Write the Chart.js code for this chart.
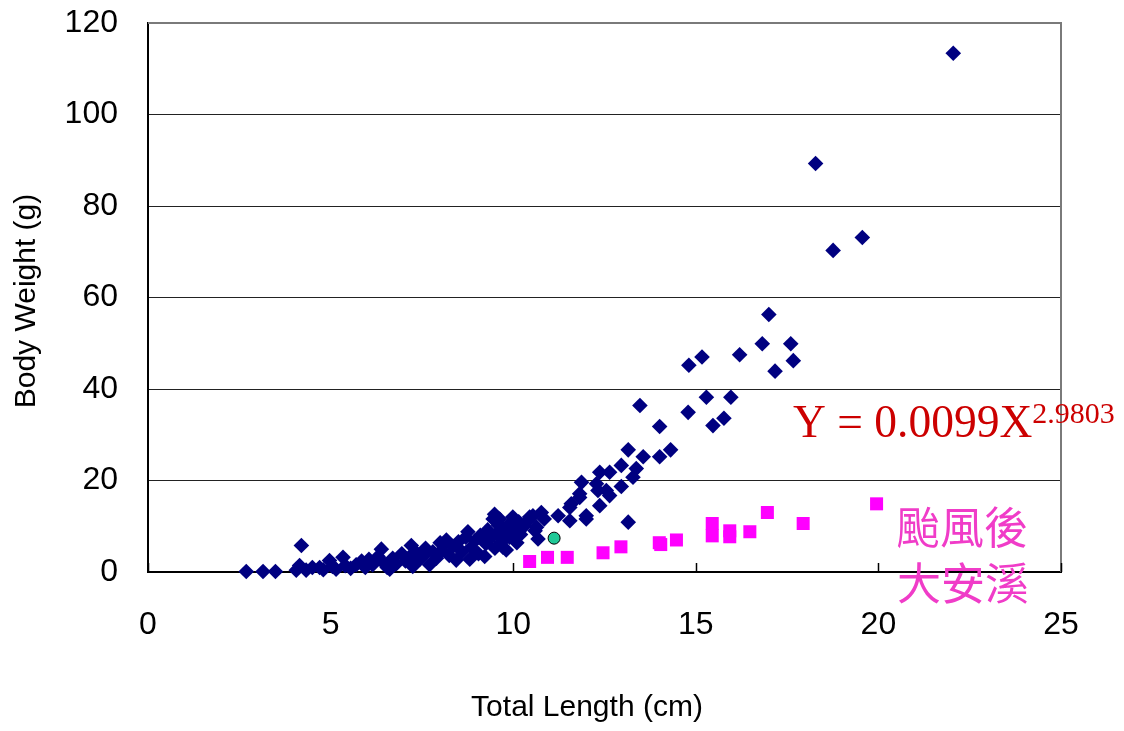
<!DOCTYPE html>
<html>
<head>
<meta charset="utf-8">
<script src="https://cdn.jsdelivr.net/npm/chart.js@4/dist/chart.umd.min.js"></script>
<style>
  html, body { margin: 0; padding: 0; background: #fff; }
</style>
</head>
<body>
<canvas id="lwChart" width="1124" height="731"></canvas>
<script>
// total length (cm) / body weight (g)
const beforeX = [2.69, 3.15, 3.49, 4.06, 4.15, 4.2, 4.33, 4.5, 4.7, 4.8, 4.97, 5.05, 5.15, 5.34, 5.4, 5.55, 5.7, 5.85, 5.95, 6.05,
  6.15, 6.3, 6.39, 6.45, 6.55, 6.62, 6.7, 6.8, 6.95, 7.05, 7.15, 7.21, 7.25, 7.35, 7.45, 7.55, 7.6, 7.71, 7.8, 7.9,
  8.0, 8.05, 8.17, 8.25, 8.35, 8.44, 8.5, 8.6, 8.7, 8.76, 8.81, 8.85, 8.95, 9.05, 9.1, 9.22, 9.25, 9.3, 9.35, 9.45,
  9.49, 9.5, 9.55, 9.6, 9.63, 9.68, 9.72, 9.75, 9.81, 9.85, 9.9, 9.9, 9.95, 9.99, 10.05, 10.1, 10.15, 10.2, 10.3, 10.41,
  10.45, 10.54, 10.6, 10.64, 10.68, 10.77, 10.85, 11.23, 11.55, 11.55, 11.59, 11.82, 11.82, 11.87, 12.0, 12.0, 12.28, 12.32, 12.37, 12.37,
  12.55, 12.64, 12.64, 12.96, 12.96, 13.15, 13.15, 13.28, 13.37, 13.47, 13.56, 14.01, 14.01, 14.31, 14.79, 14.81, 15.17, 15.29, 15.47, 15.77,
  15.96, 16.2, 16.82, 17.0, 17.17, 17.6, 17.67, 18.28, 18.76, 19.56, 22.05];
const beforeY = [0.1, 0.1, 0.1, 0.4, 1.4, 5.8, 0.4, 1.0, 1.0, 0.5, 2.5, 1.2, 0.6, 3.2, 1.4, 0.8, 1.6, 2.4, 1.0, 2.8,
  1.6, 3.4, 5.0, 2.0, 1.0, 0.6, 3.0, 1.8, 4.0, 2.4, 3.2, 5.8, 1.2, 4.2, 2.8, 3.6, 5.2, 1.6, 4.4, 3.0,
  6.4, 4.8, 7.0, 3.6, 5.6, 2.6, 6.6, 4.4, 7.6, 8.8, 2.8, 5.4, 6.8, 4.0, 8.0, 3.4, 6.2, 9.2, 7.2, 11.6,
  12.6, 5.2, 8.4, 10.2, 11.6, 6.6, 5.4, 9.4, 4.8, 7.8, 10.5, 7.6, 8.8, 12.0, 9.6, 6.4, 11.0, 8.2, 10.0, 11.2,
  12.0, 12.3, 9.0, 9.8, 7.2, 13.0, 11.6, 12.3, 11.2, 14.1, 14.9, 16.3, 17.1, 19.6, 11.6, 12.3, 19.3, 17.8, 14.5, 21.8,
  17.8, 21.8, 16.7, 23.3, 18.7, 26.7, 10.9, 20.7, 22.6, 36.4, 25.2, 25.2, 31.8, 26.7, 34.9, 45.2, 47.0, 38.2, 32.0, 33.6,
  38.2, 47.5, 49.9, 56.3, 43.9, 49.9, 46.2, 89.3, 70.3, 73.1, 113.4];

// after the typhoon, Da-an river
const afterX = [10.45, 10.94, 11.48, 12.46, 12.95, 14.0, 14.04, 14.47, 15.45, 15.45, 15.93, 15.93, 16.48, 16.96, 17.94, 19.95];
const afterY = [2.3, 3.2, 3.2, 4.2, 5.5, 6.4, 6.0, 7.0, 10.6, 7.9, 9.0, 7.7, 8.8, 13.0, 10.6, 14.9];

const markX = [11.12];
const markY = [7.4];

const xTicks = [0, 5, 10, 15, 20, 25];
const yTicks = [0, 20, 40, 60, 80, 100, 120];

const formulaMain = 'Y = 0.0099X';
const formulaExp = '2.9803';
const noteLines = ['颱風後', '大安溪'];
const xTitle = 'Total Length (cm)';
const yTitle = 'Body Weight (g)';

const toPoints = (xs, ys) => xs.map((x, i) => ({ x: x, y: ys[i] }));

const sansFont = "'Liberation Sans', Arial, sans-serif";

const framePlugin = {
    id: 'frame',
    beforeDatasetsDraw(chart) {
        const { ctx, chartArea: a, scales } = chart;
        ctx.save();
        // frame top and right
        ctx.strokeStyle = '#7a7a7a';
        ctx.lineWidth = 2;
        ctx.beginPath();
        ctx.moveTo(a.left, a.top);
        ctx.lineTo(a.right, a.top);
        ctx.lineTo(a.right, a.bottom);
        ctx.stroke();
        // inside tick marks on the x axis
        ctx.strokeStyle = '#000';
        ctx.lineWidth = 1.5;
        xTicks.forEach(v => {
            const px = Math.round(scales.x.getPixelForValue(v)) + 0.5;
            ctx.beginPath();
            ctx.moveTo(px, a.bottom);
            ctx.lineTo(px, a.bottom - 9);
            ctx.stroke();
        });
        ctx.restore();
    },
    afterDraw(chart) {
        const { ctx } = chart;
        ctx.save();
        ctx.fillStyle = '#000';
        ctx.font = '30px ' + sansFont;
        ctx.textAlign = 'center';
        ctx.textBaseline = 'middle';
        ctx.fillText(xTitle, 587, 708);
        ctx.translate(27, 301);
        ctx.rotate(-Math.PI / 2);
        ctx.fillText(yTitle, 0, 0);
        ctx.restore();

        ctx.save();
        ctx.fillStyle = '#cc0000';
        ctx.textBaseline = 'alphabetic';
        ctx.textAlign = 'left';
        ctx.font = "45.5px 'Liberation Serif', 'Times New Roman', serif";
        ctx.fillText(formulaMain, 793, 437);
        const w = ctx.measureText(formulaMain).width;
        ctx.font = "30px 'Liberation Serif', 'Times New Roman', serif";
        ctx.fillText(formulaExp, 793 + w, 423);
        ctx.restore();

        ctx.save();
        ctx.fillStyle = '#f03cc8';
        ctx.font = "44px 'Noto Sans CJK TC', sans-serif";
        ctx.textAlign = 'center';
        ctx.textBaseline = 'middle';
        ctx.fillText(noteLines[0], 962, 527);
        ctx.fillText(noteLines[1], 963, 583);
        ctx.restore();
    }
};

const ctx = document.getElementById('lwChart').getContext('2d');
const lwChart = new Chart(ctx, {
    type: 'scatter',
    data: {
        datasets: [
            {
                label: 'before',
                data: toPoints(beforeX, beforeY),
                pointStyle: 'rectRot',
                pointRadius: 7.8,
                backgroundColor: '#000080',
                borderColor: '#000080',
                borderWidth: 0,
                clip: false,
                order: 3
            },
            {
                label: 'after',
                data: toPoints(afterX, afterY),
                pointStyle: 'rect',
                pointRadius: 9.2,
                backgroundColor: '#ff00ff',
                borderColor: '#ff00ff',
                borderWidth: 0,
                clip: false,
                order: 2
            },
            {
                label: 'mark',
                data: toPoints(markX, markY),
                pointStyle: 'circle',
                pointRadius: 6,
                backgroundColor: '#20c997',
                borderColor: '#000',
                borderWidth: 1,
                clip: false,
                order: 1
            }
        ]
    },
    options: {
        responsive: false,
        animation: false,
        devicePixelRatio: 1,
        layout: { padding: { top: 23, right: 63, left: 0, bottom: 0 } },
        plugins: { legend: { display: false }, tooltip: { enabled: false } },
        scales: {
            x: {
                type: 'linear',
                min: 0,
                max: 25,
                afterFit: (scale) => { scale.height = 159; },
                afterBuildTicks: (scale) => { scale.ticks = xTicks.map(v => ({ value: v })); },
                ticks: { color: '#000', font: { family: sansFont, size: 32 }, padding: 34, maxRotation: 0 },
                grid: { display: false, drawTicks: false },
                border: { display: true, color: '#000', width: 2 }
            },
            y: {
                min: 0,
                max: 120,
                afterFit: (scale) => {
                    scale.width = 148;
                    scale.paddingTop = 10;
                    scale.paddingBottom = 10;
                },
                afterBuildTicks: (scale) => { scale.ticks = yTicks.map(v => ({ value: v })); },
                ticks: { color: '#000', font: { family: sansFont, size: 32 }, padding: 30 },
                grid: { color: '#222', lineWidth: 1, drawTicks: false },
                border: { display: true, color: '#000', width: 2 }
            }
        }
    },
    plugins: [framePlugin]
});
</script>
</body>
</html>
